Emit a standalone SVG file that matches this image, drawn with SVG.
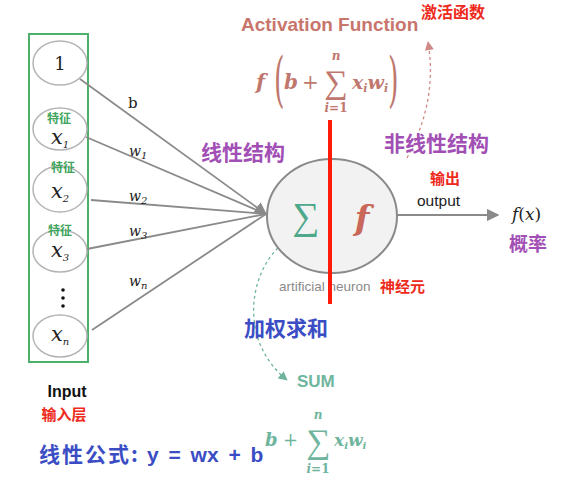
<svg xmlns="http://www.w3.org/2000/svg" width="561" height="484" viewBox="0 0 561 484">
<defs>
<style>
.in{fill:#ffffff;stroke:#b5b5b5;stroke-width:1.5}
.ln{stroke:#8a8a8a;stroke-width:1.8;fill:none}
.s{font-family:"Liberation Sans",Arial,sans-serif;font-weight:bold}
.cjk{font-family:"Noto Sans CJK SC","Noto Sans",sans-serif;font-weight:bold}
.feat{font-family:"Noto Sans CJK SC",sans-serif;font-weight:bold;font-size:12px;fill:#3ea55a}
.xv{font-family:"DejaVu Serif","Liberation Serif",serif;font-style:italic;font-size:21px;fill:#222}
.sub{font-size:10px}
.wl{font-family:"DejaVu Serif","Liberation Serif",serif;font-style:italic;font-size:14px;fill:#222}
</style>
<marker id="ag" viewBox="0 0 10 10" refX="9" refY="5" markerWidth="7" markerHeight="7" orient="auto"><path d="M0,0 L10,5 L0,10 z" fill="#8a8a8a"/></marker>
<marker id="ar" viewBox="0 0 10 10" refX="9" refY="5" markerWidth="7" markerHeight="7" orient="auto"><path d="M0,0 L10,5 L0,10 z" fill="#d08a85"/></marker>
<marker id="at" viewBox="0 0 10 10" refX="9" refY="5" markerWidth="7" markerHeight="7" orient="auto"><path d="M0,0 L10,5 L0,10 z" fill="#6fb59e"/></marker>
</defs>
<rect width="561" height="484" fill="#ffffff"/>

<g id="input-layer">
<rect x="29" y="34" width="59" height="328" fill="none" stroke="#4caf6a" stroke-width="2"/>
<text x="67" y="397" text-anchor="middle" class="s" font-size="16" fill="#111">Input</text>
<text x="64" y="420" text-anchor="middle" class="cjk" font-size="15" fill="#ee2a1b">输入层</text>
</g>

<g id="input-1">
<ellipse cx="60" cy="63" rx="27" ry="22" class="in"/>
<text x="60" y="70" text-anchor="middle" font-family="DejaVu Serif,serif" font-size="18" fill="#222">1</text>
</g>
<g id="input-x1">
<ellipse cx="60" cy="129" rx="27" ry="21" class="in"/>
<text x="59" y="123" text-anchor="middle" class="feat">特征</text>
<text x="51" y="144" class="xv">x<tspan class="sub" dy="4">1</tspan></text>
</g>
<g id="input-x2">
<ellipse cx="60" cy="189" rx="27" ry="23" class="in"/>
<text x="63" y="172" text-anchor="middle" class="feat">特征</text>
<text x="51" y="198" class="xv">x<tspan class="sub" dy="4">2</tspan></text>
</g>
<g id="input-x3">
<ellipse cx="60" cy="251" rx="27" ry="21" class="in"/>
<text x="60" y="235" text-anchor="middle" class="feat">特征</text>
<text x="51" y="257" class="xv">x<tspan class="sub" dy="4">3</tspan></text>
</g>
<g id="dots">
<circle cx="63" cy="290" r="1.8" fill="#111"/>
<circle cx="63" cy="298" r="1.8" fill="#111"/>
<circle cx="63" cy="306" r="1.8" fill="#111"/>
</g>
<g id="input-xn">
<ellipse cx="60" cy="336" rx="27" ry="21" class="in"/>
<text x="51" y="341" class="xv">x<tspan class="sub" dy="4">n</tspan></text>
</g>

<g id="connectors">
<line x1="80" y1="79" x2="266" y2="214" class="ln" marker-end="url(#ag)"/>
<line x1="86" y1="137" x2="266" y2="214" class="ln"/>
<line x1="91" y1="200" x2="266" y2="214" class="ln"/>
<line x1="87" y1="249" x2="266" y2="214" class="ln"/>
<line x1="92" y1="330" x2="266" y2="214" class="ln"/>
<line x1="397" y1="215" x2="498" y2="215" class="ln" marker-end="url(#ag)"/>
<path d="M407 158 Q438 100 428 42" fill="none" stroke="#d08a85" stroke-width="1.3" stroke-dasharray="3,3" marker-end="url(#ar)"/>
<path d="M278 248 C250 275 238 340 287 380" fill="none" stroke="#6fb59e" stroke-width="1.3" stroke-dasharray="3,3" marker-end="url(#at)"/>
</g>

<g id="weights">
<text x="128" y="108" font-family="DejaVu Serif,serif" font-size="15" fill="#222">b</text>
<text x="129" y="156" class="wl">w<tspan class="sub" dy="3">1</tspan></text>
<text x="129" y="201" class="wl">w<tspan class="sub" dy="3">2</tspan></text>
<text x="129" y="236" class="wl">w<tspan class="sub" dy="3">3</tspan></text>
<text x="129" y="286" class="wl">w<tspan class="sub" dy="3">n</tspan></text>
</g>

<g id="neuron">
<ellipse cx="332" cy="216" rx="65" ry="57" fill="#f2f2f2" stroke="#8a8a8a" stroke-width="2"/>
<text x="306" y="229" text-anchor="middle" font-family="Liberation Serif,serif" font-size="38" fill="#4ea88a">∑</text>
<text x="362" y="230" text-anchor="middle" font-family="DejaVu Serif,serif" font-style="italic" font-weight="bold" font-size="34" fill="#c8675a">f</text>
<text x="279" y="291" font-family="Liberation Sans,Arial,sans-serif" font-size="13.5" fill="#8a8a8a">artificial neuron</text>
<line x1="330" y1="120" x2="330" y2="304" stroke="#ff1a0a" stroke-width="4"/>
<text x="380" y="292" class="cjk" font-size="15" fill="#ee2a1b">神经元</text>
</g>

<g id="labels">
<text x="201" y="160" class="cjk" font-size="21" fill="#a24fb5">线性结构</text>
<text x="384" y="151" class="cjk" font-size="21" fill="#a24fb5">非线性结构</text>
<text x="241" y="31" class="s" font-size="19" fill="#c8756c">Activation Function</text>
<text x="421" y="18" class="cjk" font-size="16" fill="#ee2a1b">激活函数</text>
<text x="430" y="184" class="cjk" font-size="15" fill="#ee2a1b">输出</text>
<text x="417" y="206" font-family="Liberation Sans,Arial,sans-serif" font-size="15.5" fill="#222">output</text>
<text x="512" y="220" font-family="DejaVu Serif,serif" font-style="italic" font-size="17" fill="#222">f<tspan font-style="normal">(</tspan>x<tspan font-style="normal">)</tspan></text>
<text x="509" y="251" class="cjk" font-size="19" fill="#a24fb5">概率</text>
<text x="244" y="336" class="cjk" font-size="21" fill="#3b4dc4">加权求和</text>
<text x="297" y="387" class="s" font-size="17" fill="#6fb59e">SUM</text>
</g>

<g id="activation-formula" fill="#c0776d" font-family="DejaVu Serif,serif" font-weight="bold">
<text x="256" y="89" font-size="21" font-style="italic">f</text>
<text x="274" y="100" font-size="60" font-weight="normal" transform="translate(274 100) scale(0.45 1) translate(-274 -100)">(</text>
<text x="284" y="89" font-size="20" font-style="italic">b</text>
<text x="302" y="89" font-size="20" font-weight="normal">+</text>
<text x="336" y="93" text-anchor="middle" font-size="33" font-weight="normal" font-family="Liberation Serif,serif">∑</text>
<text x="336" y="60" text-anchor="middle" font-size="12" font-style="italic">n</text>
<text x="336" y="112" text-anchor="middle" font-size="12"><tspan font-style="italic">i</tspan>=1</text>
<text x="352" y="89" font-size="19" font-style="italic">x<tspan font-size="11" dy="3">i</tspan><tspan dy="-3">w</tspan><tspan font-size="11" dy="3">i</tspan></text>
<text x="388" y="100" font-size="60" font-weight="normal" transform="translate(388 100) scale(0.45 1) translate(-388 -100)">)</text>
</g>

<g id="linear-formula">
<text x="39" y="462" class="cjk" font-size="21" letter-spacing="2" fill="#3b4dc4">线性公式:</text>
<text x="147" y="462" font-family="Liberation Sans,Arial,sans-serif" font-weight="bold" font-size="21" word-spacing="4" fill="#3b4dc4" xml:space="preserve">y = wx + b</text>
<g fill="#6fb59e" font-family="DejaVu Serif,serif" font-weight="bold">
<text x="265" y="446" font-size="18" font-style="italic">b</text>
<text x="283" y="446" font-size="18" font-weight="normal">+</text>
<text x="318" y="453" text-anchor="middle" font-size="34" font-weight="normal" font-family="Liberation Serif,serif">∑</text>
<text x="318" y="419" text-anchor="middle" font-size="12" font-style="italic">n</text>
<text x="318" y="473" text-anchor="middle" font-size="12"><tspan font-style="italic">i</tspan>=1</text>
<text x="334" y="446" font-size="17" font-style="italic">x<tspan font-size="10" dy="3">i</tspan><tspan dy="-3">w</tspan><tspan font-size="10" dy="3">i</tspan></text>
</g>
</g>
</svg>
